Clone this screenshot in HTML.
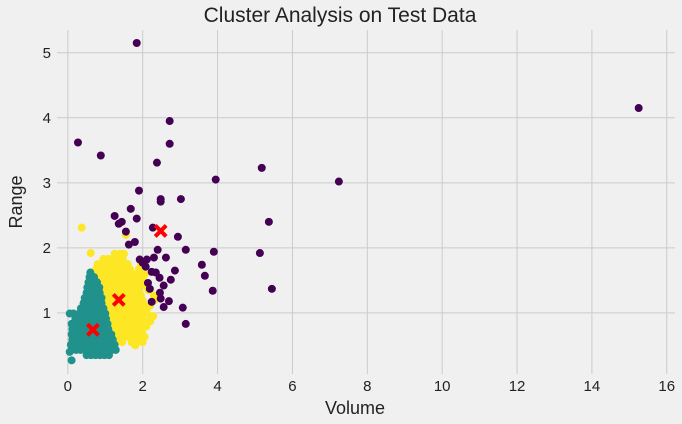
<!DOCTYPE html>
<html><head><meta charset="utf-8"><style>
html,body{margin:0;padding:0;background:#f0f0f0;}
svg{display:block;font-family:"Liberation Sans","DejaVu Sans",sans-serif;}
</style></head><body>
<svg id="chart" width="682" height="424" viewBox="0 0 682 424">
<rect x="0" y="0" width="682" height="424" fill="#f0f0f0"/>
<text x="340" y="22" text-anchor="middle" font-size="21" fill="#222">Cluster Analysis on Test Data</text>
<text x="355" y="414" text-anchor="middle" font-size="18" fill="#222">Volume</text>
<text transform="translate(22,202) rotate(-90)" text-anchor="middle" font-size="18" fill="#222">Range</text>
<g id="grid"></g>
<g id="marks"></g>
</svg>
<script>
const xTicks=[0,2,4,6,8,10,12,14,16];
const yTicks=[1,2,3,4,5];
const purple=[[1.84,5.15],[0.27,3.62],[0.88,3.42],[2.72,3.95],[2.72,3.60],[2.38,3.31],[3.95,3.05],[5.18,3.23],[7.24,3.02],[15.25,4.15],[1.90,2.88],[2.48,2.75],[2.48,2.71],[3.02,2.75],[1.68,2.6],[1.25,2.49],[1.44,2.4],[1.36,2.37],[1.84,2.45],[5.37,2.4],[1.55,2.25],[2.27,2.31],[1.79,2.09],[1.63,2.05],[2.94,2.17],[2.40,1.97],[3.15,1.97],[3.90,1.94],[5.13,1.92],[1.92,1.82],[2.0,1.77],[2.11,1.82],[2.30,1.85],[2.62,1.85],[2.08,1.71],[2.24,1.63],[2.35,1.62],[2.86,1.65],[3.58,1.74],[3.66,1.57],[2.75,1.51],[2.45,1.54],[2.56,1.42],[2.19,1.37],[2.46,1.31],[2.48,1.22],[3.87,1.34],[5.45,1.37],[2.70,1.18],[2.56,1.09],[3.07,1.08],[3.15,0.83],[2.24,1.17],[2.14,1.46]];
const tealRows=[[0.35,[0.5,0.62,0.74,0.86,0.98,1.1]],[0.43,[0.1,0.22,0.34,0.46,0.58,0.7,0.82,0.94,1.06,1.18,1.28]],[0.51,[0.08,0.2,0.32,0.44,0.56,0.68,0.8,0.92,1.04,1.16,1.25]],[0.59,[0.12,0.24,0.36,0.48,0.6,0.72,0.84,0.96,1.08,1.2]],[0.67,[0.1,0.22,0.34,0.46,0.58,0.7,0.82,0.94,1.06,1.16]],[0.75,[0.12,0.24,0.36,0.48,0.6,0.72,0.84,0.96,1.08]],[0.83,[0.1,0.22,0.34,0.46,0.58,0.7,0.82,0.94,1.06]],[0.91,[0.2,0.32,0.44,0.56,0.68,0.8,0.92,1.02]],[0.99,[0.05,0.15,0.3,0.42,0.54,0.66,0.78,0.9,1.0]],[1.07,[0.35,0.47,0.59,0.71,0.83,0.95]],[1.15,[0.42,0.54,0.66,0.78,0.9]],[1.23,[0.45,0.57,0.69,0.81,0.9]],[1.31,[0.5,0.62,0.74,0.85]],[1.39,[0.52,0.64,0.76,0.84]],[1.47,[0.55,0.67,0.78]],[1.55,[0.58,0.7]],[1.62,[0.6]],[0.27,[0.1]],[0.4,[0.05]]];
const yellowRows=[[0.5,[1.8]],[0.55,[1.3,1.45,1.7,1.85,2.0]],[0.63,[1.25,1.38,1.5,1.62,1.75,1.9,2.05]],[0.71,[1.2,1.33,1.46,1.59,1.72,1.85,1.98]],[0.79,[1.15,1.28,1.41,1.54,1.67,1.8,1.93,2.1]],[0.87,[1.12,1.25,1.38,1.51,1.64,1.77,1.9,2.03,2.2]],[0.95,[1.08,1.21,1.34,1.47,1.6,1.73,1.86,1.99,2.2,2.28]],[1.03,[1.02,1.15,1.28,1.41,1.54,1.67,1.8,1.93,2.1]],[1.11,[0.98,1.11,1.24,1.37,1.5,1.63,1.76,1.89,2.05,2.2]],[1.19,[0.94,1.07,1.2,1.33,1.46,1.59,1.72,1.85,2.0,2.3]],[1.27,[0.9,1.03,1.16,1.29,1.42,1.55,1.68,1.81,1.95,2.3]],[1.35,[0.86,0.99,1.12,1.25,1.38,1.51,1.64,1.77,1.9,2.15]],[1.43,[0.82,0.95,1.08,1.21,1.34,1.47,1.6,1.73,1.86,2.05]],[1.51,[0.78,0.91,1.04,1.17,1.3,1.43,1.56,1.69,1.82,2.0]],[1.59,[0.72,0.85,0.98,1.11,1.24,1.37,1.5,1.63,1.76,1.95,2.05]],[1.67,[0.75,0.88,1.01,1.14,1.27,1.4,1.53,1.66,1.9]],[1.75,[0.8,0.93,1.06,1.19,1.32,1.45,1.6,1.95]],[1.83,[0.95,1.08,1.21,1.34,1.47]],[1.91,[1.25,1.4,1.5]],[2.31,[0.37]],[1.92,[0.61]],[2.2,[1.55]]];
const centroids=[[0.67,0.74],[1.36,1.2],[2.48,2.26]];

const L=57,R=675,T=30,B=374;
const xMin=-0.29,xMax=16.22,yMin=0.06,yMax=5.35;
function sx(v){return L+(v-xMin)/(xMax-xMin)*(R-L);}
function sy(v){return B-(v-yMin)/(yMax-yMin)*(B-T);}
const NS="http://www.w3.org/2000/svg";
const grid=document.getElementById('grid'),marks=document.getElementById('marks');
function mk(tag,attrs,parent){const e=document.createElementNS(NS,tag);for(const k in attrs)e.setAttribute(k,attrs[k]);parent.appendChild(e);return e;}
xTicks.forEach(t=>{
  const l=mk('line',{x1:sx(t),x2:sx(t),y1:T,y2:B,stroke:'#cbcbcb','stroke-width':1},grid);
  
  
  const tx=mk('text',{x:sx(t),y:B+17,'text-anchor':'middle','font-size':15,fill:'#222'},grid);
  tx.textContent=t;
  
  
});
yTicks.forEach(t=>{
  const l=mk('line',{x1:L,x2:R,y1:sy(t),y2:sy(t),stroke:'#cbcbcb','stroke-width':1},grid);
  
  
  const tx=mk('text',{x:L-6,y:sy(t)+5,'text-anchor':'end','font-size':15,fill:'#222'},grid);
  tx.textContent=t;
  
  
});
function dot(x,y,color,name){
  const c=mk('circle',{cx:sx(x),cy:sy(y),r:4,fill:color},marks);
  
  
}
yellowRows.forEach(r=>r[1].forEach(x=>dot(x,r[0],'#fde725','point-cluster-yellow')));
tealRows.forEach(r=>r[1].forEach(x=>dot(x,r[0],'#21918c','point-cluster-teal')));
purple.forEach(p=>dot(p[0],p[1],'#440154','point-cluster-purple'));
centroids.forEach(c=>{
  const g=mk('g',{},marks);
  
  
  const cx=sx(c[0]),cy=sy(c[1]),s=5.5;
  mk('line',{x1:cx-s,y1:cy-s,x2:cx+s,y2:cy+s,stroke:'#ff0000','stroke-width':4},g);
  mk('line',{x1:cx-s,y1:cy+s,x2:cx+s,y2:cy-s,stroke:'#ff0000','stroke-width':4},g);
});
</script>
</body></html>
